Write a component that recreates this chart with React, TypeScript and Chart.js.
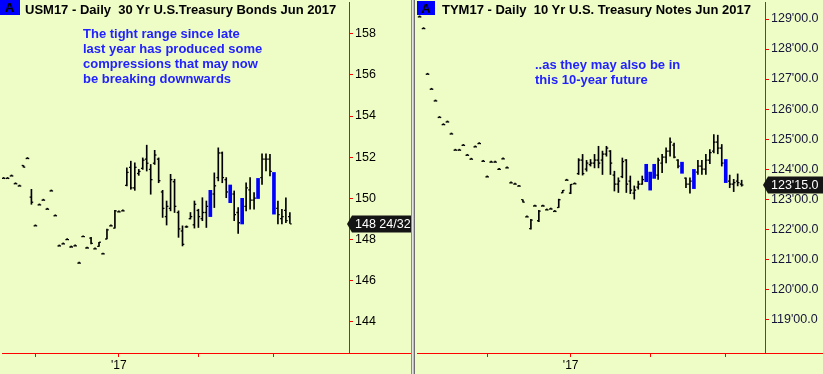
import React, { useEffect, useRef } from 'react';
import { Chart, registerables } from 'chart.js';

Chart.register(...registerables);

const FONT = '"Liberation Sans", Arial, sans-serif';
const BG = '#EEFCC6';
Chart.defaults.font.family = FONT;

// ---------------- USM17 (30 Yr Bonds) ----------------
const usTitle = 'USM17 - Daily  30 Yr U.S.Treasury Bonds Jun 2017';
const usNote = ['The tight range since late', 'last year has produced some', 'compressions that may now', 'be breaking downwards'];
const usDates = [0,1,2,3,4,5,6,7,8,9,10,11,12,13,14,15,16,17,18,19,20,21,22,23,24,25,26,27,28,29,30,31,32,33,34,35,36,37,38,39,40,41,42,43,44,45,46,47,48,49,50,51,52,53,54,55,56,57,58,59,60,61,62,63,64,65,66,67,68,69,70,71,72];
const usOpen = [150.96,150.96,151.08,150.70,150.59,151.59,151.93,150.05,148.65,149.67,149.90,149.46,150.35,149.14,147.67,147.77,147.98,147.62,147.67,146.83,148.12,147.57,148.05,147.53,147.65,147.28,148.01,148.65,148.54,149.33,149.38,150.62,151.50,150.50,151.20,151.45,151.90,151.40,151.70,151.90,150.30,149.10,149.50,150.80,149.30,148.40,148.60,149.00,148.70,149.40,149.00,149.30,149.20,150.20,151.00,152.20,150.90,150.50,150.20,149.30,148.90,149.60,150.40,149.90,150.10,151.00,151.90,151.90,151.10,149.50,149.00,149.40,149.10];
const usHigh = [150.96,150.96,151.08,150.70,150.59,151.59,151.93,150.43,148.65,149.67,149.90,149.46,150.35,149.14,147.67,147.77,147.98,147.62,147.67,146.83,148.12,147.57,148.09,147.53,147.85,147.28,148.49,148.65,149.41,149.33,149.38,151.48,151.80,151.72,151.40,151.96,152.58,151.64,152.33,151.96,150.38,149.86,151.16,150.92,149.38,148.65,148.65,149.30,149.86,149.46,150.02,149.86,150.38,151.23,152.45,152.25,151.00,150.64,150.35,149.54,149.99,150.75,151.00,150.27,150.96,152.16,152.16,152.13,151.25,149.86,149.46,150.02,149.30];
const usLow = [150.96,150.96,151.08,150.70,150.59,151.51,151.93,149.70,148.65,149.67,149.90,149.46,150.35,149.14,147.67,147.77,147.98,147.62,147.67,146.83,148.12,147.57,147.77,147.53,147.65,147.28,148.01,148.65,148.54,149.33,149.38,150.59,150.43,150.38,151.11,151.40,151.32,150.19,151.64,150.75,149.06,148.69,149.38,149.30,148.09,147.67,148.57,148.98,148.54,148.57,148.90,148.57,149.10,149.54,150.84,150.75,150.02,149.78,148.90,148.28,148.74,149.38,149.46,149.46,149.98,150.67,151.32,151.08,149.22,148.74,148.74,148.81,148.77];
const usClose = [150.96,150.96,151.08,150.70,150.59,151.51,151.93,149.80,148.65,149.67,149.90,149.46,150.35,149.14,147.67,147.77,147.98,147.62,147.67,146.83,148.12,147.57,147.80,147.53,147.85,147.28,148.45,148.65,149.38,149.33,149.38,151.25,150.50,151.50,151.30,151.85,151.70,150.90,152.10,150.85,149.50,149.60,150.90,149.60,148.50,147.75,148.60,149.10,149.70,149.10,149.30,149.60,150.30,150.60,152.20,151.00,150.30,149.90,149.20,148.80,149.80,150.50,149.90,150.00,150.80,151.90,151.90,151.30,149.40,149.20,149.10,148.90,148.75];
const usPainted = [52, 57, 60, 64, 68];
const usYTicks = [144, 146, 148, 150, 152, 154, 156, 158];
const usYLabels = ['144', '146', '148', '150', '152', '154', '156', '158'];
const usLastLabel = '148 24/32';

// ---------------- TYM17 (10 Yr Notes) ----------------
const tyTitle = 'TYM17 - Daily  10 Yr U.S. Treasury Notes Jun 2017';
const tyNote = ['..as they may also be in', 'this 10-year future'];
const tyDates = [-9,-8,-7,-6,-5,-4,-3,-2,-1,0,1,2,3,4,5,6,7,8,9,10,11,12,13,14,15,16,17,18,19,20,21,22,23,24,25,26,27,28,29,30,31,32,33,34,35,36,37,38,39,40,41,42,43,44,45,46,47,48,49,50,51,52,53,54,55,56,57,58,59,60,61,62,63,64,65,66,67,68,69,70,71,72];
const tyOpen = [129.07,128.68,127.16,126.66,126.27,125.72,125.48,125.57,125.17,124.63,124.63,124.79,124.46,124.33,124.74,124.85,124.26,123.74,124.23,124.23,123.99,124.34,124.04,123.54,123.50,123.43,122.98,122.41,122.02,122.77,122.28,122.77,122.64,122.67,122.59,122.72,123.21,123.63,123.20,123.51,123.85,124.30,124.00,124.15,124.20,124.30,124.30,124.50,124.60,123.80,123.50,123.75,124.30,123.60,123.20,123.40,123.50,123.60,123.85,123.70,123.80,124.20,124.40,124.60,124.80,124.30,124.20,123.70,123.50,123.40,123.90,124.10,124.00,124.30,124.60,124.90,124.70,124.30,123.60,123.50,123.60,123.50];
const tyHigh = [129.07,128.68,127.16,126.66,126.27,125.72,125.48,125.57,125.17,124.63,124.63,124.79,124.46,124.33,124.74,124.85,124.26,123.74,124.23,124.23,123.99,124.34,124.04,123.54,123.50,123.43,122.98,122.41,122.33,122.77,122.63,122.77,122.64,122.67,122.59,123.00,123.29,123.63,123.49,123.51,124.35,124.49,124.29,124.32,124.49,124.76,124.60,124.76,124.62,123.93,123.71,124.37,124.32,123.77,123.44,123.60,123.77,124.16,123.90,124.16,124.37,124.49,124.71,125.04,124.87,124.32,124.23,123.71,123.71,123.99,124.29,124.29,124.49,124.65,125.15,125.13,124.82,124.32,123.80,123.66,123.84,123.63];
const tyLow = [129.07,128.68,127.16,126.66,126.27,125.72,125.48,125.57,125.17,124.63,124.63,124.79,124.46,124.33,124.74,124.85,124.26,123.74,124.23,124.23,123.99,124.34,124.04,123.54,123.50,123.43,122.90,122.41,122.00,122.77,122.25,122.77,122.64,122.67,122.59,122.72,123.21,123.63,123.18,123.51,123.82,123.80,123.93,124.10,124.04,124.04,123.82,124.43,123.82,123.27,123.22,123.71,123.22,123.18,123.00,123.33,123.49,123.58,123.30,123.69,123.66,123.88,124.21,124.43,124.37,124.04,123.86,123.38,123.20,123.35,123.82,123.82,123.82,124.18,124.54,124.51,124.10,123.55,123.38,123.25,123.44,123.43];
const tyClose = [129.07,128.68,127.16,126.66,126.27,125.72,125.48,125.57,125.17,124.63,124.63,124.79,124.46,124.33,124.74,124.85,124.26,123.74,124.23,124.23,123.99,124.34,124.04,123.54,123.50,123.43,122.90,122.41,122.30,122.77,122.60,122.77,122.64,122.67,122.59,122.98,123.29,123.63,123.49,123.51,124.30,123.85,124.20,124.20,124.30,124.20,124.50,124.70,124.20,123.50,123.60,124.25,123.50,123.30,123.30,123.50,123.65,124.10,123.35,124.10,124.30,124.40,124.60,124.90,124.40,124.10,123.90,123.50,123.60,123.95,124.10,124.00,124.30,124.55,124.90,124.70,124.20,123.60,123.50,123.55,123.55,123.469];
const tyPainted = [48, 49, 50, 57, 60, 68];
const tyYTicks = [119, 120, 121, 122, 123, 124, 125, 126, 127, 128, 129];
const tyYLabels = ["119'00.0", "120'00.0", "121'00.0", "122'00.0", "123'00.0", "124'00.0", "125'00.0", "126'00.0", "127'00.0", "128'00.0", "129'00.0"];
const tyLastLabel = "123'15.0";

// shared date axis ticks (month starts)
const xTickDates = [8, 29, 49, 68];
const xTickLabels = ['', "'17", '', ''];

function buildChart(canvas: HTMLCanvasElement, cfg: any) {
  const idx = cfg.dates.map((_: number, k: number) => k);
  const plainIdx = idx.filter((k: number) => !cfg.painted.includes(cfg.dates[k]));
  const paintIdx = idx.filter((k: number) => cfg.painted.includes(cfg.dates[k]));
  const last = cfg.dates.length - 1;

  const tag = {
    id: 'priceTag',
    afterDraw(chart: any) {
      const ctx = chart.ctx;
      const area = chart.chartArea;
      const w = chart.width;
      ctx.save();
      // extend the date axis line under the price axis
      ctx.strokeStyle = '#ff0000';
      ctx.lineWidth = 1;
      const yb = Math.floor(area.bottom) + 0.5;
      ctx.beginPath();
      ctx.moveTo(area.right, yb);
      ctx.lineTo(w, yb);
      ctx.stroke();
      // last price tag
      const y = Math.round(chart.scales.y.getPixelForValue(cfg.close[last]));
      const x0 = area.right;
      ctx.fillStyle = '#141414';
      ctx.beginPath();
      ctx.moveTo(x0 - 2, y);
      ctx.lineTo(x0 + 3, y - 8.5);
      ctx.lineTo(w, y - 8.5);
      ctx.lineTo(w, y + 8.5);
      ctx.lineTo(x0 + 3, y + 8.5);
      ctx.closePath();
      ctx.fill();
      ctx.fillStyle = '#ffffff';
      ctx.font = `12.5px ${FONT}`;
      ctx.textBaseline = 'middle';
      ctx.textAlign = 'left';
      ctx.fillText(cfg.lastLabel, x0 + 6, y + 1);
      ctx.restore();
    },
  };

  return new Chart(canvas, {
    type: 'bar',
    data: {
      datasets: [
        {
          type: 'bar',
          data: plainIdx.map((k: number) => ({ x: cfg.dates[k], y: [cfg.low[k], cfg.high[k]] })),
          backgroundColor: '#000000',
          barThickness: 1,
          minBarLength: 1,
          grouped: false,
          borderWidth: 0,
        },
        {
          type: 'bar',
          data: paintIdx.map((k: number) => ({ x: cfg.dates[k], y: [cfg.low[k], cfg.high[k]] })),
          backgroundColor: '#0000ff',
          barThickness: 3,
          grouped: false,
          borderWidth: 0,
        },
        {
          type: 'scatter',
          data: plainIdx.map((k: number) => ({ x: cfg.dates[k] - 0.25, y: cfg.open[k] })),
          pointStyle: 'line',
          pointRadius: 0.8,
          pointHoverRadius: 0,
          pointBorderWidth: 1.3,
          pointBorderColor: '#000000',
        },
        {
          type: 'scatter',
          data: plainIdx.map((k: number) => ({ x: cfg.dates[k] + 0.25, y: cfg.close[k] })),
          pointStyle: 'line',
          pointRadius: 0.8,
          pointHoverRadius: 0,
          pointBorderWidth: 1.3,
          pointBorderColor: '#000000',
        },
      ],
    } as any,
    options: {
      animation: false,
      responsive: false,
      events: [],
      layout: { padding: 0 },
      plugins: { legend: { display: false }, tooltip: { enabled: false }, title: { display: false } },
      scales: {
        x: {
          type: 'linear',
          position: 'bottom',
          min: cfg.xMin,
          max: cfg.xMax,
          offset: false,
          border: { color: '#ff0000', width: 1 },
          grid: { drawOnChartArea: false, drawTicks: true, tickLength: 4, color: '#ff0000', offset: false },
          ticks: {
            autoSkip: false,
            maxRotation: 0,
            padding: 1,
            color: '#000000',
            font: { size: 12, family: FONT },
            callback: (v: any) => {
              const i = xTickDates.indexOf(Number(v));
              return i >= 0 ? xTickLabels[i] : '';
            },
          },
          afterBuildTicks: (s: any) => {
            s.ticks = xTickDates.map((v) => ({ value: v }));
          },
          afterFit: (s: any) => {
            s.height = 21;
            s.paddingLeft = 0;
            s.paddingRight = 0;
          },
        },
        y: {
          type: 'linear',
          position: 'right',
          min: cfg.yMin,
          max: cfg.yMax,
          beginAtZero: false,
          border: { color: '#ff0000', width: 1 },
          grid: { drawOnChartArea: false, drawTicks: true, tickLength: 4, color: '#ff0000' },
          ticks: {
            autoSkip: false,
            padding: 2,
            color: cfg.labelColor,
            font: { size: cfg.labelSize, family: FONT },
            callback: (v: any) => {
              const i = cfg.yTicks.indexOf(Number(v));
              return i >= 0 ? cfg.yLabels[i] : '';
            },
          },
          afterBuildTicks: (s: any) => {
            s.ticks = cfg.yTicks.map((v: number) => ({ value: v }));
          },
          afterFit: (s: any) => {
            s.width = cfg.axisWidth;
            s.paddingTop = 0;
            s.paddingBottom = 0;
          },
        },
      },
    } as any,
    plugins: [tag],
  });
}

const titleStyle: React.CSSProperties = {
  position: 'absolute',
  top: 2,
  font: `bold 13px ${FONT}`,
  lineHeight: '15px',
  color: '#000',
  whiteSpace: 'pre',
};
const boxStyle: React.CSSProperties = {
  position: 'absolute',
  background: '#0000ff',
  color: '#000',
  font: `bold 13px ${FONT}`,
  textAlign: 'center',
  lineHeight: '16px',
  height: 15,
};
const noteStyle: React.CSSProperties = {
  position: 'absolute',
  font: `bold 13px ${FONT}`,
  lineHeight: '15px',
  color: '#2222ff',
  whiteSpace: 'pre',
};

export default function App() {
  const leftRef = useRef<HTMLCanvasElement>(null);
  const rightRef = useRef<HTMLCanvasElement>(null);

  useEffect(() => {
    const a = buildChart(leftRef.current!, {
      dates: usDates, open: usOpen, high: usHigh, low: usLow, close: usClose, painted: usPainted,
      xMin: -0.375, xMax: 86.875, yMin: 142.455, yMax: 159.55,
      yTicks: usYTicks, yLabels: usYLabels, lastLabel: usLastLabel, labelColor: '#000000', labelSize: 12.5, axisWidth: 62,
    });
    const b = buildChart(rightRef.current!, {
      dates: tyDates, open: tyOpen, high: tyHigh, low: tyLow, close: tyClose, painted: tyPainted,
      xMin: -9.625, xMax: 77.875, yMin: 117.874, yMax: 129.563,
      yTicks: tyYTicks, yLabels: tyYLabels, lastLabel: tyLastLabel, labelColor: '#15153a', labelSize: 12.5, axisWidth: 58,
    });
    return () => {
      a.destroy();
      b.destroy();
    };
  }, []);

  return (
    <div style={{ position: 'fixed', left: 0, top: 0, width: 823, height: 374, background: BG, overflow: 'hidden' }}>
      <canvas ref={leftRef} width={411} height={374} style={{ position: 'absolute', left: 0, top: 0, width: 411, height: 374 }} />
      <div
        style={{
          position: 'absolute', left: 411, top: 0, width: 4, height: 374,
          background: 'linear-gradient(to right, #8a8a8a 0px, #8a8a8a 1px, #e4e4e4 1px, #e4e4e4 2px, #bdbdbd 2px, #bdbdbd 3px, #6e6e6e 3px)',
        }}
      />
      <canvas ref={rightRef} width={408} height={374} style={{ position: 'absolute', left: 415, top: 0, width: 408, height: 374 }} />

      <div style={{ ...boxStyle, left: 0, top: 0, width: 20 }}>A</div>
      <div style={{ ...titleStyle, left: 25 }}>{usTitle}</div>
      <div style={{ ...noteStyle, left: 83, top: 26 }}>
        {usNote.map((t) => (<div key={t}>{t}</div>))}
      </div>

      <div style={{ ...boxStyle, left: 417, top: 1, width: 18, height: 14 }}>A</div>
      <div style={{ ...titleStyle, left: 442 }}>{tyTitle}</div>
      <div style={{ ...noteStyle, left: 535, top: 57 }}>
        {tyNote.map((t) => (<div key={t}>{t}</div>))}
      </div>
    </div>
  );
}
